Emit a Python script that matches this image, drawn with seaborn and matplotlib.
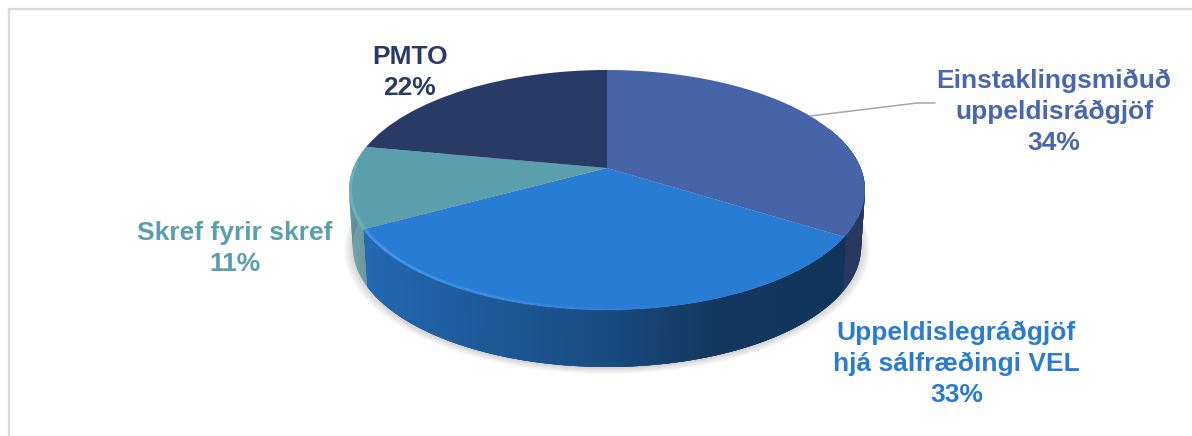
import numpy as np
import matplotlib
matplotlib.use("Agg")
import matplotlib.pyplot as plt
from matplotlib.path import Path
from matplotlib.transforms import Transform
import seaborn as sns

categories = [["Einstaklingsmiðuð", "uppeldisráðgjöf"],
              ["Uppeldislegráðgjöf", "hjá sálfræðingi VEL"],
              ["Skref fyrir skref"],
              ["PMTO"]]
values = [34, 33, 11, 22]
colors = ["#4864A8", "#297CD4", "#5A9FAB", "#2A3A66"]
label_colors = ["#4A66AC", "#2A7CD3", "#5A9FAB", "#2A3A66"]
label_x = [1054, 956.5, 235, 410]
label_baseline = [88, 340, 240, 64]

sns.set_theme(style="white")
plt.rcParams["font.family"] = ["Liberation Sans", "DejaVu Sans"]
palette = sns.color_palette(colors)

# perspective view of the pie disc, in pixels of the 1192x436 canvas
CX, APEX_Y, A, K, C = 607.0, 168.0, 85.17, 0.1833, 253.6
DEPTH, BOTTOM_SCALE = 57.0, 0.985


def project(u, v, drop=0.0, scale=1.0):
    d = 1 + K * v
    return CX + scale * C * u / d, (APEX_Y - A * v) / d + drop


class Perspective(Transform):
    input_dims = output_dims = 2
    is_affine = False

    def transform_non_affine(self, xy):
        xy = np.asarray(xy, float)
        return np.column_stack(project(xy[:, 0], xy[:, 1]))

    def transform_path_non_affine(self, path):
        return Path(self.transform_non_affine(path.vertices), path.codes)


fig = plt.figure(figsize=(11.92, 4.36), dpi=100, facecolor="white")
ax = fig.add_axes([0, 0, 1, 1])

# chart frame
ax.plot([8.5, 8.5, 1192], [436, 9.5, 9.5], color="#D9D9D9", lw=1.6, solid_capstyle="butt", zorder=1)

# soft shadow under the disc
th = np.linspace(0, 2 * np.pi, 240)
for s in np.linspace(1.035, 0.99, 14):
    sx, sy = project(np.sin(th) * s, np.cos(th) * s, DEPTH + 1, BOTTOM_SCALE)
    ax.fill(sx, sy, color="#5A5A5A", alpha=0.024, lw=0, zorder=2)

# side wall, shaded from left to right
shade_x = [350, 420, 607, 720, 865]
shade_k = [0.86, 0.78, 0.60, 0.44, 0.42]
edges = np.cumsum([0] + values) / sum(values) * 2 * np.pi
step = np.radians(0.5)
for i in (2, 1, 0):
    col = palette[i]
    t = np.append(np.arange(edges[i], edges[i + 1], step), edges[i + 1])
    # painted right-to-left with overlap, so no seams show between the strips
    for t0, t1 in zip(t[:-1], t[1:]):
        if np.cos((t0 + t1) / 2) > 0.35:
            continue
        ta = t0 - 2 * step if i != 2 else t0
        x0, y0 = project(np.sin(ta), np.cos(ta))
        x1, y1 = project(np.sin(t1), np.cos(t1))
        x2, y2 = project(np.sin(t1), np.cos(t1), DEPTH, BOTTOM_SCALE)
        x3, y3 = project(np.sin(ta), np.cos(ta), DEPTH, BOTTOM_SCALE)
        k = np.interp((x0 + x1) / 2, shade_x, shade_k)
        if i == 0:
            k = max(k, 0.56)
        if i == 2:
            k = 0.88
        ax.fill([x0, x1, x2, x3], [y0, y1, y2, y3], color=tuple(np.array(col) * k),
                lw=0, zorder=3 + i * 0.01 + (t1 / 100))

# top face: the pie itself
wedges, _ = ax.pie(values, colors=palette, startangle=90, counterclock=False,
                   wedgeprops=dict(linewidth=0))
persp = Perspective()
for w in wedges:
    w.set_transform(persp + ax.transData)
    w.set_zorder(4)

# lit bevel along the front rim
for i, col in enumerate(palette):
    if i in (0, 3):
        continue
    t = np.linspace(edges[i], edges[i + 1], 120)
    bx, by = project(np.sin(t) * 0.995, np.cos(t) * 0.995)
    for j in range(len(t) - 1):
        if np.cos(t[j]) > 0.05:
            continue
        a = np.clip((-np.sin(t[j]) + 0.25) * 0.42, 0, 0.42)
        ax.plot(bx[j:j + 2], by[j:j + 2], color="#66B5FF" if i == 1 else "#7CD0DA", alpha=a,
                lw=2.2, solid_capstyle="butt", zorder=5)

ax.set_aspect("auto")
ax.set_xlim(0, 1192)
ax.set_ylim(436, 0)
ax.axis("off")

# leader line
ax.plot([810, 917, 935], [116, 103, 103], color="#A6A6A6", lw=1.1, zorder=6)

total = sum(values)
for name, v, col, x, y in zip(categories, values, label_colors, label_x, label_baseline):
    for n, line in enumerate(name + [f"{round(100 * v / total)}%"]):
        ax.text(x, y + 31 * n, line, color=col, ha="center", va="baseline",
                fontsize=19.0, fontweight="bold", zorder=7)

fig.savefig("out.png", dpi=100)
